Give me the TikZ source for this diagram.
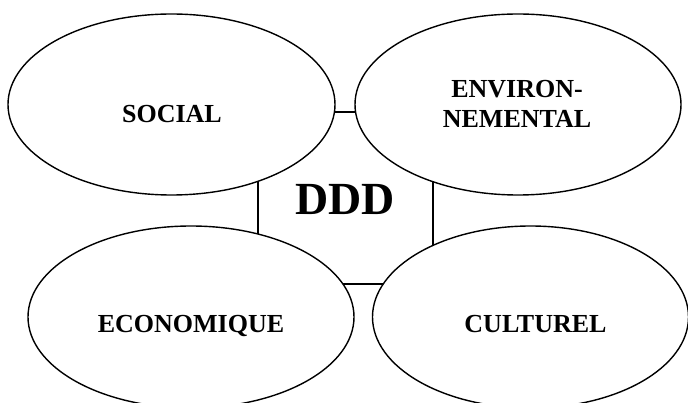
\documentclass[tikz,border=0pt]{standalone}
\usepackage{fontspec}
\setmainfont{Liberation Serif}
\usetikzlibrary{shapes.geometric}
\begin{document}
\begin{tikzpicture}[x=1pt,y=-1pt,line width=1.4pt,
  bubble/.style={draw, fill=white, ellipse, inner sep=0pt},
  lbl/.style={font=\bfseries\fontsize{26}{30}\selectfont, inner sep=0pt, align=center},
  ctr/.style={draw, rectangle, inner sep=0pt}]
\useasboundingbox (0,0) rectangle (688,403);
\node[ctr, minimum width=175pt, minimum height=172pt] (box) at (345.5,198) {};
\node[bubble, minimum width=327pt, minimum height=181pt] (soc) at (171.5,104.5) {};
\node[bubble, minimum width=326pt, minimum height=181pt] (env) at (518,104.5) {};
\node[bubble, minimum width=326pt, minimum height=182pt] (eco) at (191,317) {};
\node[bubble, minimum width=316pt, minimum height=182pt] (cul) at (530.5,317) {};
\node[lbl, anchor=base] (tsoc) at (172,123) {SOCIAL};
\node[lbl] (tenv) at (517,104) {ENVIRON-\\NEMENTAL};
\node[lbl, anchor=base] (teco) at (191,333) {ECONOMIQUE};
\node[lbl, anchor=base] (tcul) at (535.5,333) {CULTUREL};
\node[font=\bfseries\fontsize{46}{50}\selectfont, inner sep=0pt, anchor=base] (tddd) at (345,215) {DDD};
\end{tikzpicture}
\end{document}
